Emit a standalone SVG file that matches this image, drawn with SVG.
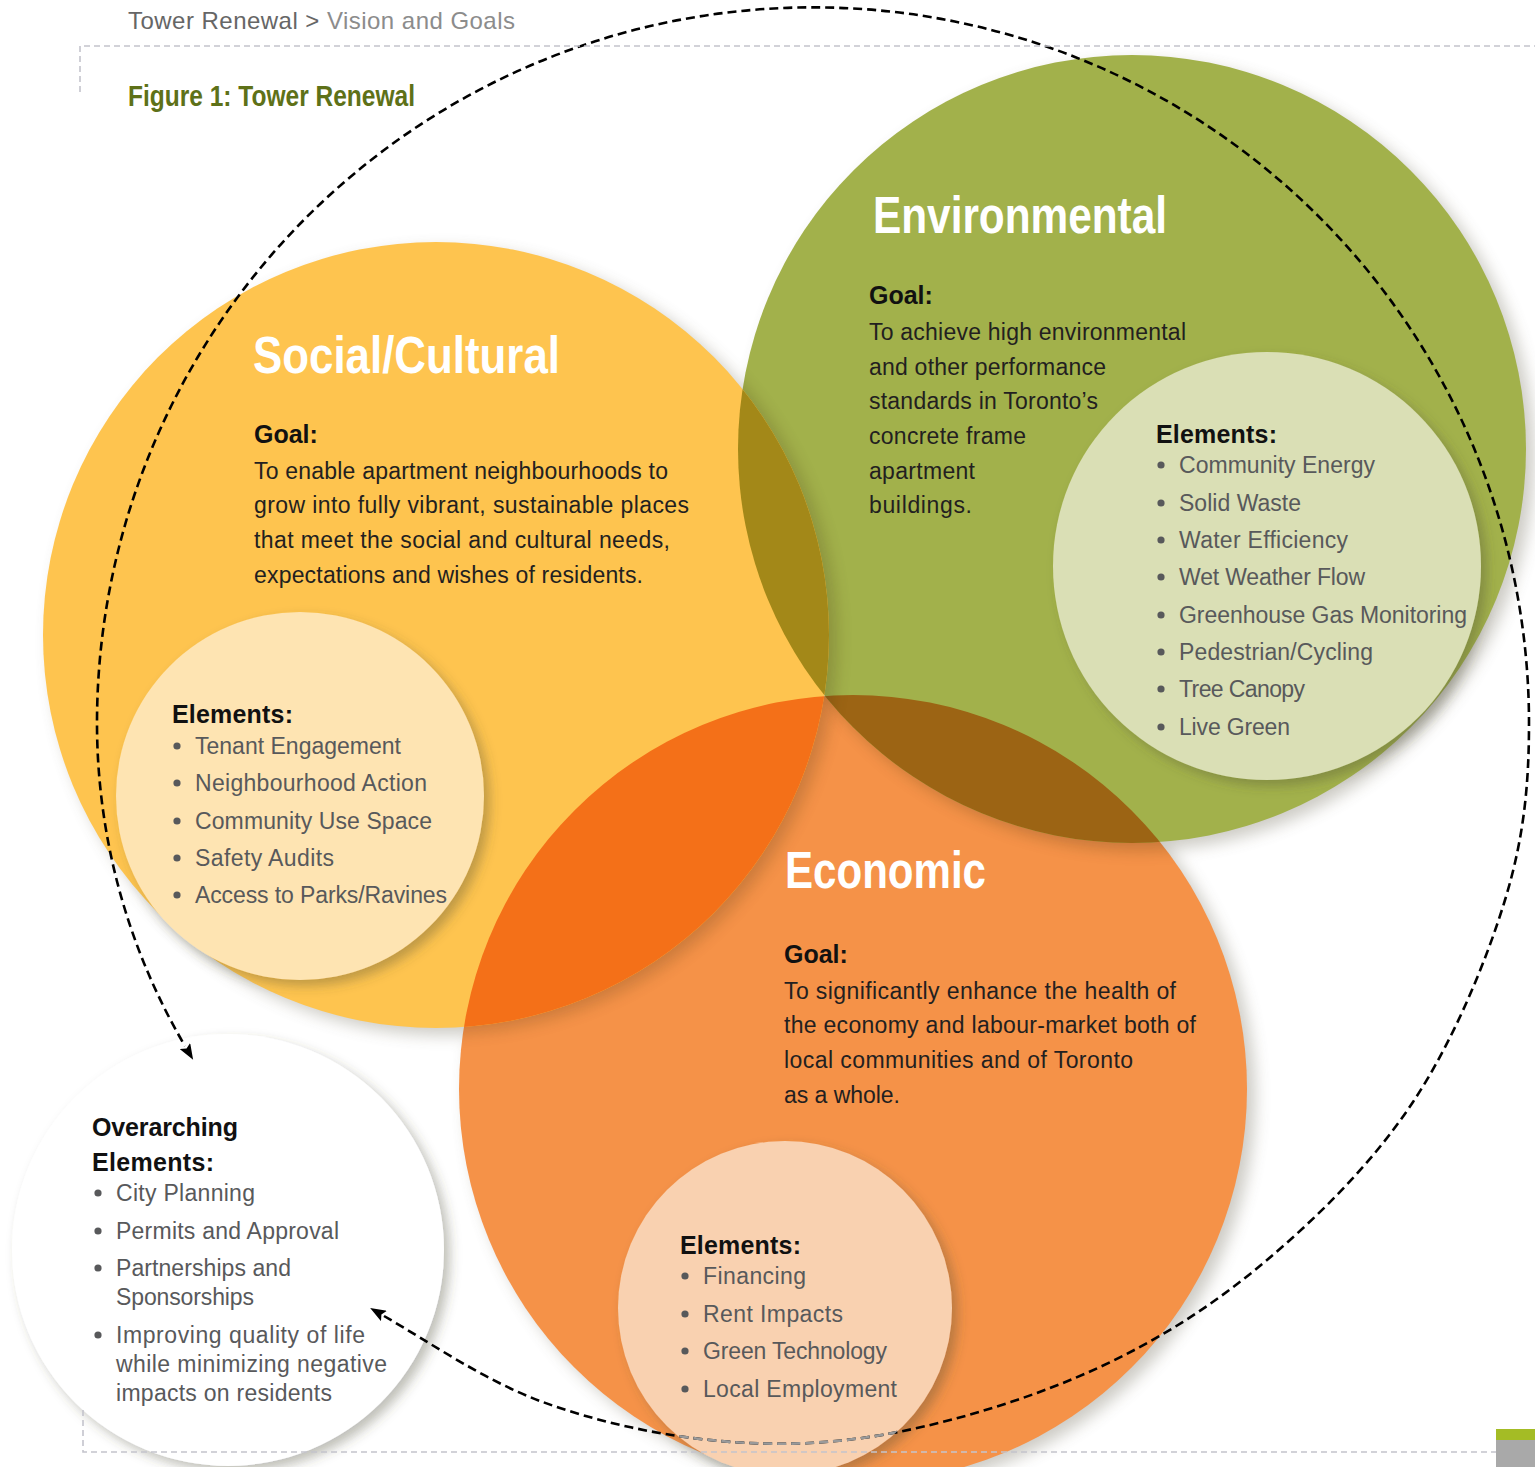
<svg xmlns="http://www.w3.org/2000/svg" width="1535" height="1467" viewBox="0 0 1535 1467">
<style>
.hdr{font-family:"Liberation Sans",Arial,sans-serif;font-size:24px}
.fig{font-family:"Liberation Sans Narrow","Liberation Sans",Arial,sans-serif;font-weight:bold;font-size:29px;fill:#5e7118}
.ttl{font-family:"Liberation Sans Narrow","Liberation Sans",Arial,sans-serif;font-weight:bold;font-size:52px;fill:#fff}
.bold{font-family:"Liberation Sans",Arial,sans-serif;font-weight:bold;font-size:25px;fill:#111}
.goal{font-family:"Liberation Sans",Arial,sans-serif;font-size:23px;fill:#231f20}
.item{font-family:"Liberation Sans",Arial,sans-serif;font-size:23px;fill:#58595b}
.bul{fill:#58595b}
.frame{fill:none;stroke:#c4c4cc;stroke-width:1.6;stroke-dasharray:6 4}
.loop{fill:none;stroke:#000;stroke-width:2.6;stroke-dasharray:9 5}
</style>
<defs>
<filter id="blur" x="-15%" y="-15%" width="130%" height="130%"><feGaussianBlur stdDeviation="8"/></filter>
<filter id="ds" x="-20%" y="-20%" width="140%" height="140%"><feDropShadow dx="6" dy="6" stdDeviation="6" flood-color="#4b4630" flood-opacity="0.35"/></filter>
<clipPath id="cEnv"><circle cx="1132" cy="449" r="394"/></clipPath>
<clipPath id="cEcon"><circle cx="853" cy="1089" r="394"/></clipPath>
<clipPath id="cEnvEcon"><circle cx="1132" cy="449" r="394"/><circle cx="853" cy="1089" r="394"/></clipPath>
<clipPath id="cEconEl"><circle cx="785" cy="1308" r="167"/></clipPath>
<marker id="ah" viewBox="0 0 16 12" refX="0" refY="6" markerWidth="16" markerHeight="12" markerUnits="userSpaceOnUse" orient="auto-start-reverse"><path d="M0,0 L16,6 L0,12 L3,6 z" fill="#000"/></marker>
</defs>
<rect width="1535" height="1467" fill="#fff"/>
<!-- header -->
<text class="hdr" x="128" y="29" textLength="387"><tspan fill="#666">Tower Renewal &gt; </tspan><tspan fill="#8c8c8c">Vision and Goals</tspan></text>
<text class="fig" x="128" y="106" textLength="287" lengthAdjust="spacingAndGlyphs">Figure 1: Tower Renewal</text>
<!-- outer shadows -->
<g opacity="0.3" filter="url(#blur)" fill="#5a5540">
<circle cx="444" cy="642" r="393"/>
<circle cx="1140" cy="456" r="394"/>
<circle cx="861" cy="1096" r="394"/>
</g>
<!-- big circles -->
<g id="node-economic-base"><circle cx="853" cy="1089" r="394" fill="#f59248"/></g>
<g clip-path="url(#cEcon)"><circle cx="1140" cy="456" r="394" fill="#3d2a10" opacity="0.25" filter="url(#blur)"/></g>
<g id="node-environmental-base"><circle cx="1132" cy="449" r="394" fill="#a2b14b"/>
<circle cx="1132" cy="449" r="394" fill="#9c6414" clip-path="url(#cEcon)"/></g>
<g clip-path="url(#cEnvEcon)"><circle cx="444" cy="640" r="393" fill="#3d2a10" opacity="0.22" filter="url(#blur)"/></g>
<g id="node-social-base"><circle cx="436" cy="635" r="393" fill="#fec44f"/>
<circle cx="436" cy="635" r="393" fill="#a38818" clip-path="url(#cEnv)"/>
<circle cx="436" cy="635" r="393" fill="#f47018" clip-path="url(#cEcon)"/></g>
<!-- Social/Cultural -->
<g id="node-social">
<text class="ttl" x="253" y="373" textLength="307" lengthAdjust="spacingAndGlyphs">Social/Cultural</text>
<text class="bold" x="254" y="443">Goal:</text>
<text class="goal" x="254" y="479" textLength="414">To enable apartment neighbourhoods to</text>
<text class="goal" x="254" y="513" textLength="435">grow into fully vibrant, sustainable places</text>
<text class="goal" x="254" y="548" textLength="416">that meet the social and cultural needs,</text>
<text class="goal" x="254" y="583" textLength="389">expectations and wishes of residents.</text>
<circle cx="300" cy="796" r="184" fill="#fee4b2" filter="url(#ds)"/>
<text class="bold" x="172" y="723" textLength="121">Elements:</text>
<circle class="bul" cx="177" cy="746" r="3.6"/><text class="item" x="195" y="754" textLength="206">Tenant Engagement</text>
<circle class="bul" cx="177" cy="783" r="3.6"/><text class="item" x="195" y="791" textLength="232">Neighbourhood Action</text>
<circle class="bul" cx="177" cy="821" r="3.6"/><text class="item" x="195" y="829" textLength="237">Community Use Space</text>
<circle class="bul" cx="177" cy="858" r="3.6"/><text class="item" x="195" y="866" textLength="139">Safety Audits</text>
<circle class="bul" cx="177" cy="895" r="3.6"/><text class="item" x="195" y="903" textLength="252">Access to Parks/Ravines</text>
</g>
<!-- Environmental -->
<g id="node-environmental">
<text class="ttl" x="873" y="233" textLength="294" lengthAdjust="spacingAndGlyphs">Environmental</text>
<text class="bold" x="869" y="304">Goal:</text>
<text class="goal" x="869" y="340" textLength="317">To achieve high environmental</text>
<text class="goal" x="869" y="375" textLength="237">and other performance</text>
<text class="goal" x="869" y="409" textLength="229">standards in Toronto’s</text>
<text class="goal" x="869" y="444" textLength="157">concrete frame</text>
<text class="goal" x="869" y="479" textLength="106">apartment</text>
<text class="goal" x="869" y="513" textLength="103">buildings.</text>
<circle cx="1267" cy="566" r="214" fill="#dadfb5" filter="url(#ds)"/>
<text class="bold" x="1156" y="443" textLength="121">Elements:</text>
<circle class="bul" cx="1161" cy="465" r="3.6"/><text class="item" x="1179" y="473" textLength="196">Community Energy</text>
<circle class="bul" cx="1161" cy="503" r="3.6"/><text class="item" x="1179" y="511" textLength="122">Solid Waste</text>
<circle class="bul" cx="1161" cy="540" r="3.6"/><text class="item" x="1179" y="548" textLength="169">Water Efficiency</text>
<circle class="bul" cx="1161" cy="577" r="3.6"/><text class="item" x="1179" y="585" textLength="186">Wet Weather Flow</text>
<circle class="bul" cx="1161" cy="615" r="3.6"/><text class="item" x="1179" y="623" textLength="288">Greenhouse Gas Monitoring</text>
<circle class="bul" cx="1161" cy="652" r="3.6"/><text class="item" x="1179" y="660" textLength="194">Pedestrian/Cycling</text>
<circle class="bul" cx="1161" cy="689" r="3.6"/><text class="item" x="1179" y="697" textLength="126">Tree Canopy</text>
<circle class="bul" cx="1161" cy="727" r="3.6"/><text class="item" x="1179" y="735" textLength="111">Live Green</text>
</g>
<!-- Economic -->
<g id="node-economic">
<text class="ttl" x="785" y="888" textLength="201" lengthAdjust="spacingAndGlyphs">Economic</text>
<text class="bold" x="784" y="963">Goal:</text>
<text class="goal" x="784" y="999" textLength="392">To significantly enhance the health of</text>
<text class="goal" x="784" y="1033" textLength="412">the economy and labour-market both of</text>
<text class="goal" x="784" y="1068" textLength="349">local communities and of Toronto</text>
<text class="goal" x="784" y="1103" textLength="116">as a whole.</text>
<circle cx="785" cy="1308" r="167" fill="#f9d1b0" filter="url(#ds)"/>
<text class="bold" x="680" y="1254" textLength="121">Elements:</text>
<circle class="bul" cx="685" cy="1276" r="3.6"/><text class="item" x="703" y="1284" textLength="103">Financing</text>
<circle class="bul" cx="685" cy="1314" r="3.6"/><text class="item" x="703" y="1322" textLength="140">Rent Impacts</text>
<circle class="bul" cx="685" cy="1351" r="3.6"/><text class="item" x="703" y="1359" textLength="184">Green Technology</text>
<circle class="bul" cx="685" cy="1389" r="3.6"/><text class="item" x="703" y="1397" textLength="194">Local Employment</text>
</g>
<!-- Overarching -->
<g id="node-overarching">
<circle cx="228" cy="1250" r="216" fill="#fff" filter="url(#ds)"/>
<text class="bold" x="92" y="1136" textLength="146">Overarching</text>
<text class="bold" x="92" y="1171" textLength="122">Elements:</text>
<circle class="bul" cx="98" cy="1193" r="3.6"/><text class="item" x="116" y="1201" textLength="139">City Planning</text>
<circle class="bul" cx="98" cy="1231" r="3.6"/><text class="item" x="116" y="1239" textLength="223">Permits and Approval</text>
<circle class="bul" cx="98" cy="1268" r="3.6"/><text class="item" x="116" y="1276" textLength="175">Partnerships and</text>
<text class="item" x="116" y="1305" textLength="138">Sponsorships</text>
<circle class="bul" cx="98" cy="1335" r="3.6"/><text class="item" x="116" y="1343" textLength="249">Improving quality of life</text>
<text class="item" x="116" y="1372" textLength="271">while minimizing negative</text>
<text class="item" x="116" y="1401" textLength="216">impacts on residents</text>
</g>
<!-- connectors -->
<g id="connectors">
<path class="loop" marker-start="url(#ah)" marker-end="url(#ah)" d="M384,1316 C429,1342 484,1380 540,1401 C596,1421.8 660.3,1435.8 720,1441 C779.7,1446.2 834.7,1444.3 898,1432 C961.3,1419.7 1038.5,1395.7 1100,1367 C1161.5,1338.3 1214.8,1304.2 1267,1260 C1319.2,1215.8 1373.3,1162 1413,1102 C1452.7,1042 1485.7,963.2 1505,900 C1524.3,836.8 1529,783 1529,723 A716 716 0 0 0 97,723 A637 637 0 0 0 185,1046"/>
<path class="loop" clip-path="url(#cEconEl)" style="stroke:#9a9a9a" d="M384,1316 C429,1342 484,1380 540,1401 C596,1421.8 660.3,1435.8 720,1441 C779.7,1446.2 834.7,1444.3 898,1432 C961.3,1419.7 1038.5,1395.7 1100,1367"/>
</g>
<!-- page frame -->
<path class="frame" d="M80,92 V46 H1535"/>
<path class="frame" d="M83,1410 V1452 H1496"/>
<rect x="1496" y="1429" width="39" height="11" fill="#a4bc25"/>
<rect x="1496" y="1440" width="39" height="27" fill="#a9a9a9"/>
</svg>
